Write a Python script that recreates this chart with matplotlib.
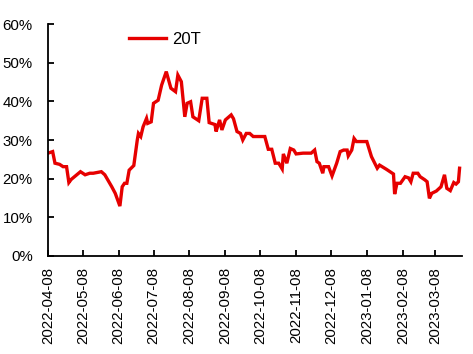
import matplotlib.pyplot as plt
import matplotlib.dates as mdates
from matplotlib.ticker import PercentFormatter
import pandas as pd

plt.rcParams['font.family'] = ['Liberation Sans', 'DejaVu Sans']

dates = ['2022-04-08', '2022-04-12', '2022-04-14', '2022-04-18', '2022-04-21', '2022-04-24',
         '2022-04-26', '2022-04-28', '2022-05-06', '2022-05-10', '2022-05-14', '2022-05-17',
         '2022-05-24', '2022-05-27', '2022-06-02', '2022-06-05', '2022-06-09', '2022-06-11',
         '2022-06-13', '2022-06-15', '2022-06-17', '2022-06-21', '2022-06-24', '2022-06-25',
         '2022-06-27', '2022-06-29', '2022-07-02', '2022-07-03', '2022-07-06', '2022-07-08',
         '2022-07-12', '2022-07-15', '2022-07-19', '2022-07-23', '2022-07-27', '2022-07-29',
         '2022-08-01', '2022-08-04', '2022-08-06', '2022-08-09', '2022-08-11', '2022-08-16',
         '2022-08-19', '2022-08-23', '2022-08-25', '2022-08-30', '2022-08-31', '2022-09-03',
         '2022-09-05', '2022-09-08', '2022-09-13', '2022-09-15', '2022-09-18', '2022-09-21',
         '2022-09-23', '2022-09-26', '2022-09-29', '2022-10-02', '2022-10-12', '2022-10-15',
         '2022-10-18', '2022-10-21', '2022-10-24', '2022-10-27', '2022-10-28', '2022-10-31',
         '2022-11-03', '2022-11-06', '2022-11-08', '2022-11-14', '2022-11-21', '2022-11-24',
         '2022-11-26', '2022-11-28', '2022-12-01', '2022-12-02', '2022-12-06', '2022-12-09',
         '2022-12-13', '2022-12-16', '2022-12-19', '2022-12-22', '2022-12-23', '2022-12-26',
         '2022-12-28', '2022-12-30', '2023-01-08', '2023-01-12', '2023-01-17', '2023-01-19',
         '2023-01-25', '2023-01-31', '2023-02-01', '2023-02-03', '2023-02-06', '2023-02-10',
         '2023-02-13', '2023-02-15', '2023-02-17', '2023-02-21', '2023-02-23', '2023-02-27',
         '2023-03-01', '2023-03-03', '2023-03-05', '2023-03-09', '2023-03-13', '2023-03-16',
         '2023-03-18', '2023-03-21', '2023-03-24', '2023-03-26', '2023-03-28', '2023-03-29']
values = [26.6, 27.0, 24.0, 23.7, 23.1, 23.1,
          19.0, 19.8, 21.8, 21.0, 21.4, 21.4,
          21.8, 21.0, 17.9, 16.2, 12.9, 17.9,
          18.8, 18.8, 22.2, 23.4, 30.0, 31.7,
          30.9, 33.4, 35.6, 34.3, 34.7, 39.5,
          40.3, 44.2, 47.7, 43.4, 42.5, 46.8,
          45.1, 36.0, 39.5, 39.9, 36.0, 35.0,
          40.8, 40.8, 34.5, 34.0, 32.2, 35.2,
          32.6, 35.2, 36.5, 35.5, 32.2, 31.7,
          30.0, 31.7, 31.7, 30.9, 30.9, 27.6,
          27.6, 24.0, 24.0, 22.5, 26.4, 24.0,
          27.8, 27.4, 26.4, 26.6, 26.6, 27.4,
          24.4, 24.0, 21.4, 23.1, 23.1, 20.7,
          24.0, 27.0, 27.4, 27.4, 25.9, 27.4,
          30.4, 29.6, 29.6, 25.7, 22.7, 23.5,
          22.4, 21.2, 16.0, 18.8, 18.8, 20.5,
          20.2, 19.2, 21.4, 21.4, 20.5, 19.7,
          19.2, 14.9, 16.2, 16.8, 17.9, 21.0,
          17.5, 16.9, 19.0, 18.6, 19.2, 22.7]
tick_dates = ['2022-04-08', '2022-05-08', '2022-06-08', '2022-07-08', '2022-08-08',
              '2022-09-08', '2022-10-08', '2022-11-08', '2022-12-08', '2023-01-08',
              '2023-02-08', '2023-03-08']

x = pd.to_datetime(dates)
ticks = pd.to_datetime(tick_dates)

fig = plt.figure(figsize=(4.73, 3.54), dpi=100)
ax = fig.add_axes([0.1015, 0.277, 0.875, 0.655])
ax.plot(x, values, color='#e60000', lw=2.4, label='20T', solid_joinstyle='miter')

ax.set_ylim(0, 60)
ax.set_yticks(range(0, 61, 10))
ax.yaxis.set_major_formatter(PercentFormatter(decimals=0))
ax.set_xlim(pd.Timestamp('2022-04-08'), pd.Timestamp('2023-03-31'))
ax.set_xticks(ticks)
ax.xaxis.set_major_formatter(mdates.DateFormatter('%Y-%m-%d'))
plt.setp(ax.get_xticklabels(), rotation=90)

for s in ['top', 'right']:
    ax.spines[s].set_visible(False)
for s in ['left', 'bottom']:
    ax.spines[s].set_linewidth(1.3)
ax.tick_params(direction='in', length=4, width=1.3, labelsize=10.8, colors='black')
ax.tick_params(axis='y', pad=11)
ax.tick_params(axis='x', pad=8)

ax.legend(loc='upper left', bbox_to_anchor=(0.16, 1.03), frameon=False,
          fontsize=12, handlelength=2.2, handletextpad=0.4)

fig.savefig('out.png', dpi=100)
